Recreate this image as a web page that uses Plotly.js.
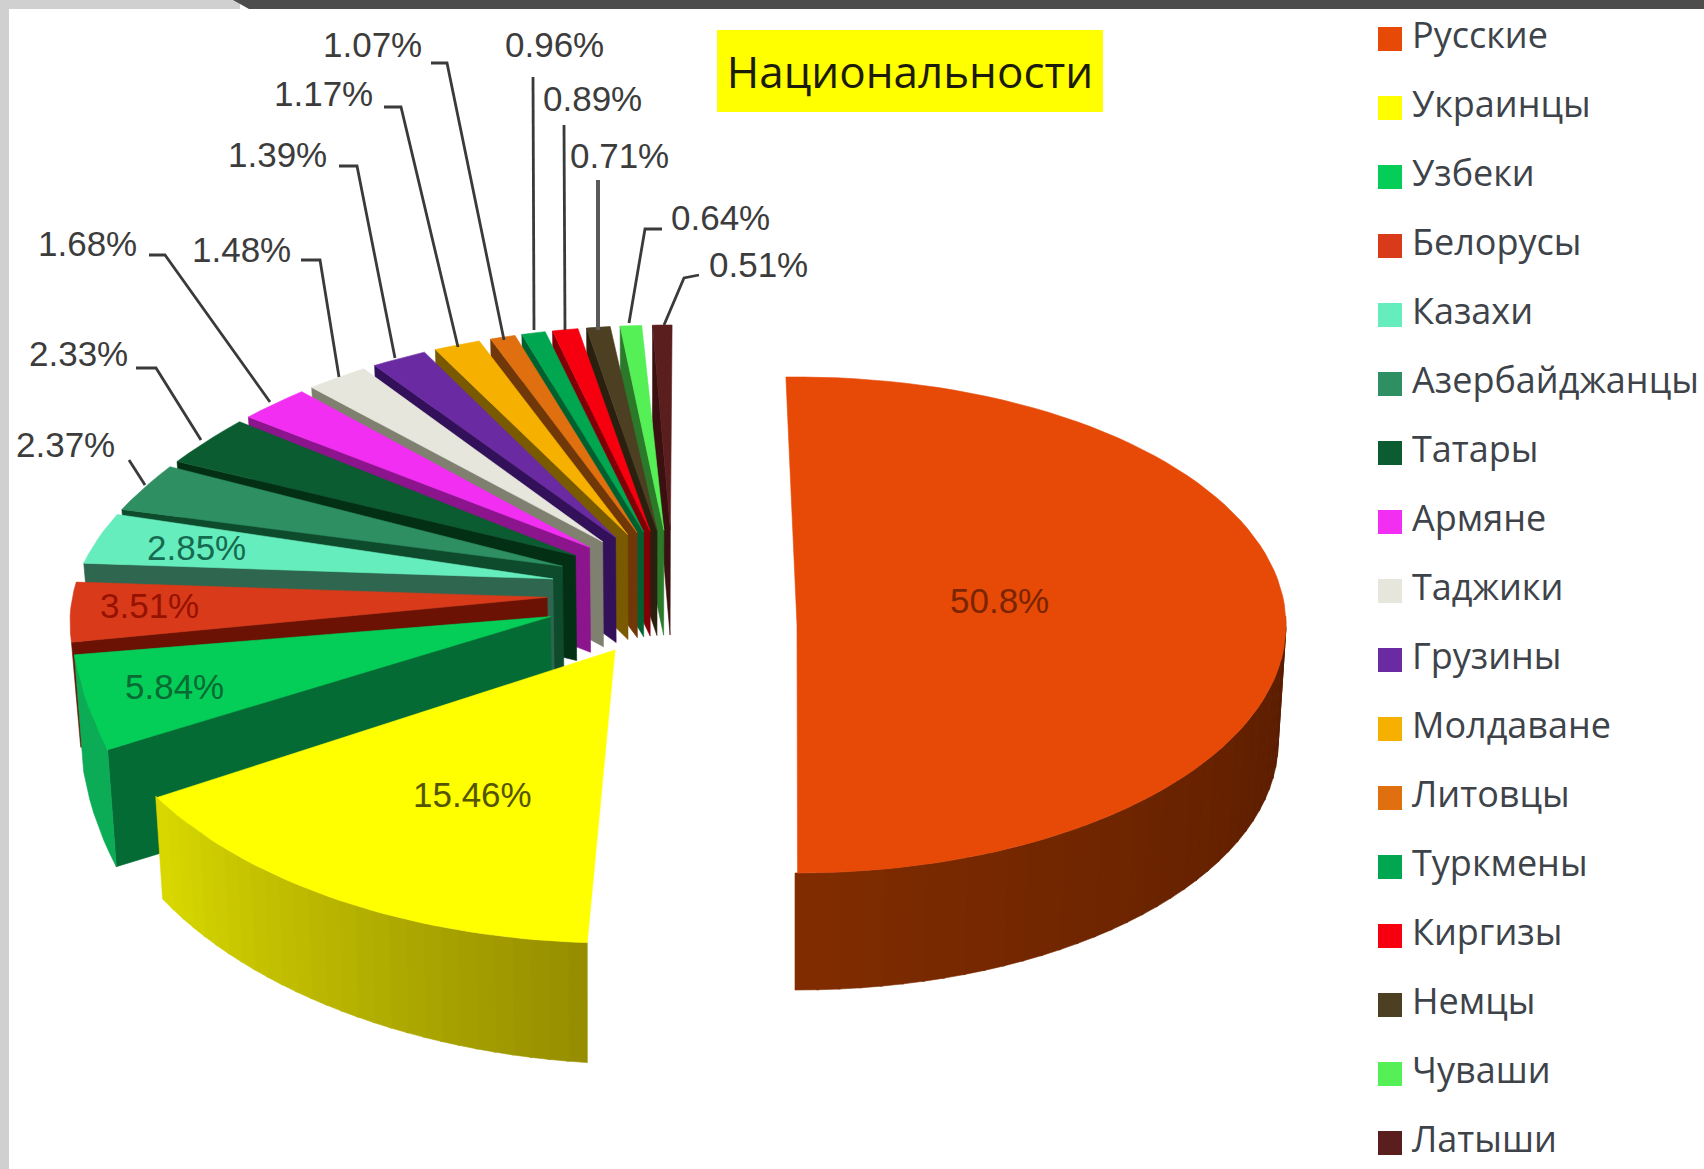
<!DOCTYPE html>
<html><head><meta charset="utf-8">
<script src="https://cdn.plot.ly/plotly-3.0.1.min.js"></script>
<style>html,body{margin:0;padding:0;background:#fff}#c{width:1704px;height:1169px}</style>
</head><body><div id="c"></div>
<script>
// ---- data ----
const categories = ["Русские","Украинцы","Узбеки","Белорусы","Казахи","Азербайджанцы","Татары","Армяне","Таджики","Грузины","Молдаване","Литовцы","Туркмены","Киргизы","Немцы","Чуваши","Латыши"];
const shares = [50.8,15.46,5.84,3.51,2.85,2.37,2.33,1.68,1.48,1.39,1.17,1.07,0.96,0.89,0.71,0.64,0.51];
const shareLabels = ["50.8%","15.46%","5.84%","3.51%","2.85%","2.37%","2.33%","1.68%","1.48%","1.39%","1.17%","1.07%","0.96%","0.89%","0.71%","0.64%","0.51%"];
// ---- styles ----
const topColors = ["#E64A06","#FFFF00","#04CE58","#D93A1A","#66EDBE","#2E8F62","#0B5C30","#F22EF2","#E6E6DC","#6A2BA2","#F5B000","#E0700F","#00A650","#F6000F","#4D3F22","#55F055","#5A1E1E"];
const wallColors = ["#662000","#B0B000","#056B35","#6B1205","#2F6650","#0E4A2C","#032F15","#8C148C","#808070","#33105A","#7A5A00","#703808","#006030","#800008","#2A2010","#2A7A2A","#3A1010"];
const labelColors = ["#7A2400","#555500","#086B33","#961200","#146B50","#3c3c3c","#3c3c3c","#3c3c3c","#3c3c3c","#3c3c3c","#3c3c3c","#3c3c3c","#3c3c3c","#3c3c3c","#3c3c3c","#3c3c3c","#3c3c3c"];
// ---- layout of the labels, in page pixels ----
const labelX = [999,472,174,149,196,65,78,87,241,277,323,372,554,592,619,720,758];
const labelY = [600,794,686,605,547,444,353,243,249,154,93,44,44,98,155,217,264];
const leaderX = [null,null,null,null,null,[129,145],[136,156,201],[149,165,270],[301,320,339],[339,357,395],[384,401,458],[431,447,504],[533,534],[564,565],[598,598],[662,645,629],[699,684,664]];
const leaderY = [null,null,null,null,null,[460,485],[368,368,440],[255,255,402],[260,260,377],[166,166,358],[107,107,347],[63,63,340],[77,330],[125,330],[180,330],[229,229,323],[275,278,325]];
// ---- pie geometry ----
const degPerPct = 3.6, smallGap = 1.07, smallStart = 241;
const rusE = {cx:797,cy:625,rx:489,ry:248,start:-1.3,scale:0.991,depth:117,dropC:797,depthSlope:0,bump:0};
const ukrE = {cx:615,cy:650,rx:530,ry:293,start:183,scale:1.02,depth:120,dropC:590,depthSlope:-0.3,bump:0};
const smallE = {cx:670,cy:620,rx:600,ry:295,start:0,depth:105,dropC:650,depthSlope:0,bump:10};
const uzbE = {cx:670,cy:604,rx:600,ry:418,start:0,depth:117,dropC:650,depthSlope:0,bump:0};
const apexC = {cx:672,cy:600,rx:125,ry:70,bump:0};
const warpIn  = [241,262.02,263.09,275.73,276.8,288.13,320.7,332.06,336.98,341.5,345.78,349.15,352.5,354.36];
const warpOut = [249.6,263,266,278.3,282.3,294,330.5,342.6,345.7,348.7,352,355,358,360.2];
const rad = d => d*Math.PI/180;
function warp(a){ for(let i=0;i<warpIn.length-1;i++){ if(a<=warpIn[i+1]){ const f=(a-warpIn[i])/(warpIn[i+1]-warpIn[i]); return warpOut[i]+f*(warpOut[i+1]-warpOut[i]); } } return warpOut[warpOut.length-1]; }
const onEll=(e,t)=>[e.cx+e.rx*Math.sin(rad(t)), e.cy-e.ry*Math.cos(rad(t))+e.bump*Math.exp(-Math.pow((t-300)/25,2))];
const drop=(p,e,d)=>[p[0]-0.016*(p[0]-e.dropC), p[1]+d];
function arc(e,a,b,n){ const out=[]; for(let i=0;i<=n;i++) out.push(onEll(e,a+(b-a)*i/n)); return out; }
function poly(pts,color,name){ const xs=pts.map(p=>p[0]),ys=pts.map(p=>p[1]); xs.push(xs[0]);ys.push(ys[0]);
  return {type:'scatter',mode:'lines',x:xs,y:ys,fill:'toself',fillcolor:color,line:{color:color,width:0.6},hoverinfo:'skip',showlegend:false,name:name||''}; }
function mix(a,b,f){ return 'rgb('+a.map((v,i)=>Math.round(v+(b[i]-v)*f)).join(',')+')'; }
function strips(e,a,b,n,c0,c1,name){ const out=[]; for(let i=0;i<n;i++){ const p=a+(b-a)*i/n,q=a+(b-a)*(i+1)/n+0.3;
  const low=[]; for(let k=3;k>=0;k--){ const t=p+(q-p)*k/3; low.push(drop(onEll(e,t),e,e.depth+e.depthSlope*(t-e.start))); }
  out.push(poly(arc(e,p,q,3).concat(low),mix(c0,c1,i/(n-1)),name)); } return out; }

const traces=[];
// small slices, laid out from the values
let cum=smallStart; const small=[];
for(let i=2;i<shares.length;i++){ const span=shares[i]*degPerPct; small.push({i,a:warp(cum),b:warp(cum+span)}); cum+=span+smallGap; }
// farthest first so nearer slices cover them
for(const s of small.slice().reverse()){
  const e = s.i===2?uzbE:smallE, mid=(s.a+s.b)/2;
  const apex=onEll(apexC,mid), r0=onEll(e,s.a);
  traces.push(poly([apex,r0,drop(r0,e,e.depth),drop(apex,e,e.depth)],wallColors[s.i],categories[s.i]));
  const rim=arc(e,s.a,s.b,Math.max(4,Math.ceil((s.b-s.a)/2)));
  if(s.i===2) traces.push(poly(rim.concat(rim.map(r=>drop(r,e,e.depth)).reverse()),'#0CAB55',categories[s.i]));
  traces.push(poly([apex].concat(rim),topColors[s.i],categories[s.i]));
}
// Ukrainians
const uEnd=ukrE.start+shares[1]*degPerPct*ukrE.scale;
traces.push(...strips(ukrE,ukrE.start,uEnd,28,[150,142,0],[216,216,0],categories[1]));
traces.push(poly([[ukrE.cx,ukrE.cy]].concat(arc(ukrE,ukrE.start,uEnd,40)),topColors[1],categories[1]));
// Russians
const rEnd=rusE.start+shares[0]*degPerPct*rusE.scale;
traces.push(...strips(rusE,88,rEnd,36,[88,28,0],[128,44,0],categories[0]));
traces.push(poly([[rusE.cx,rusE.cy]].concat(arc(rusE,rusE.start,rEnd,90)),topColors[0],categories[0]));
// leader lines
shares.forEach((v,i)=>{ if(leaderX[i]) traces.push({type:'scatter',mode:'lines',x:leaderX[i],y:leaderY[i],line:{color:i===14?'#5a5a5a':'#3a3a3a',width:i===14?4:2.8},hoverinfo:'skip',showlegend:false}); });
// key
const keyX=1390,keyTextX=1412,keyTop=39,keyStep=69.0;
const keyY=categories.map((c,i)=>keyTop+keyStep*i);
traces.push({type:'scatter',mode:'markers',x:categories.map(()=>keyX),y:keyY,marker:{symbol:'square',size:24,color:topColors},hoverinfo:'skip',showlegend:false,cliponaxis:false});
traces.push({type:'scatter',mode:'text',x:categories.map(()=>keyTextX),y:keyY,text:categories,textposition:'middle right',
  textfont:{family:'Open Sans, sans-serif',size:36,color:'#3e4349'},hoverinfo:'skip',showlegend:false,cliponaxis:false});

const annotations=shareLabels.map((t,i)=>({x:labelX[i],y:labelY[i],xref:'x',yref:'y',text:t,showarrow:false,xanchor:'center',yanchor:'middle',
  font:{family:'Liberation Sans, sans-serif',size:35,color:labelColors[i]}}));

const layout={width:1704,height:1169,margin:{l:0,r:0,t:0,b:0,pad:0},paper_bgcolor:'#fff',plot_bgcolor:'#fff',showlegend:false,hovermode:false,
  xaxis:{range:[0,1704],visible:false,fixedrange:true},yaxis:{range:[1169,0],visible:false,fixedrange:true},
  title:{text:'Национальности',x:910/1704,xanchor:'center',xref:'paper',y:1-73/1169,yanchor:'middle',yref:'paper',font:{family:'Open Sans, sans-serif',size:44,color:'#1c1c08'}},
  annotations,
  shapes:[
    {type:'rect',xref:'paper',yref:'paper',x0:0,x1:9/1704,y0:0,y1:1,fillcolor:'#d0d0d0',line:{width:0},layer:'below'},
    {type:'rect',xref:'paper',yref:'paper',x0:0,x1:240/1704,y0:1-9/1169,y1:1,fillcolor:'#d0d0d0',line:{width:0},layer:'below'},
    {type:'path',path:'M 233 0 L 1704 0 L 1704 9 L 249 9 Z',xref:'x',yref:'y',fillcolor:'#4d4d4d',line:{width:0},layer:'below'},
    {type:'rect',xref:'x',yref:'y',x0:717,x1:1103,y0:30,y1:112,fillcolor:'#FFFF00',line:{width:0},layer:'below'}
  ]};
Plotly.newPlot('c',traces,layout,{displayModeBar:false,staticPlot:true});
</script></body></html>
